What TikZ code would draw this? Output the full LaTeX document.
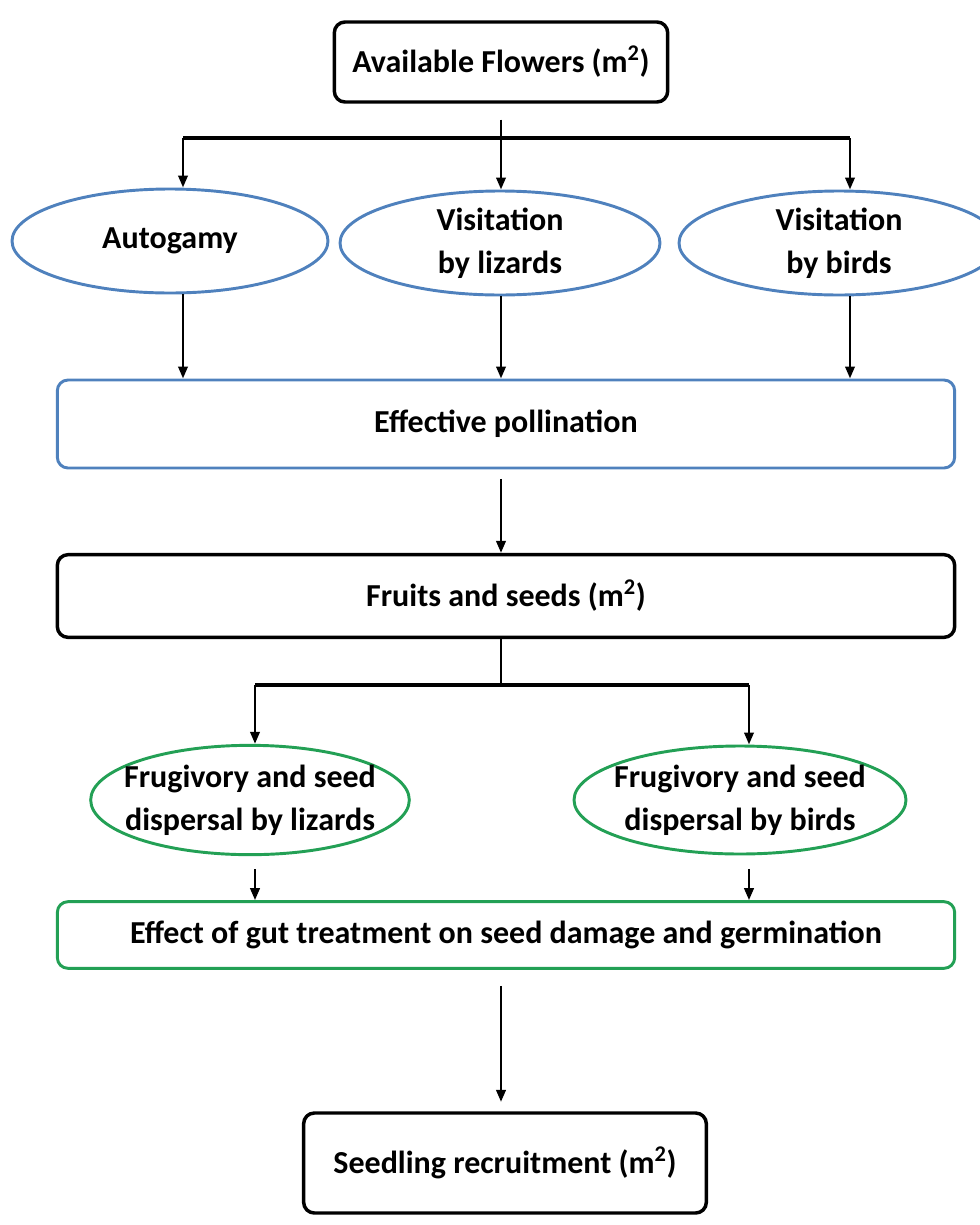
\documentclass[tikz,border=0pt]{standalone}
\usepackage{fontspec}
\setmainfont{Carlito}
\usetikzlibrary{shapes.geometric,arrows.meta}
\definecolor{pollblue}{RGB}{79,129,189}
\definecolor{seedgreen}{RGB}{35,160,85}
\begin{document}
\begin{tikzpicture}[x=0.75pt, y=-0.75pt, font=\bfseries\fontsize{24}{32}\selectfont, line join=round,
	>={Triangle[length=9pt,width=7pt]},
	box/.style={draw, line width=2.6pt, rounded corners=8pt, align=center},
	oval/.style={draw, ellipse, line width=2.2pt, inner sep=-30pt, align=center},
	line/.style={line width=2.4pt},
	stem/.style={line width=2pt},
	arr/.style={->, line width=2pt}]
	\useasboundingbox (0,0) rectangle (979,1225);
	\node[box, minimum width=250pt, minimum height=60pt] (flowers) at (501,62) {Available Flowers (m\textsuperscript{2})};
	\node[oval, draw=pollblue, minimum width=237pt, minimum height=78pt] (auto) at (170,241) {Autogamy};
	\node[oval, draw=pollblue, minimum width=240pt, minimum height=78pt] (lizv) at (500,243) {Visitation\\by lizards};
	\node[oval, draw=pollblue, minimum width=240pt, minimum height=78pt] (birdv) at (839,243) {Visitation\\by birds};
	\node[box, draw=pollblue, line width=2.2pt, minimum width=673pt, minimum height=66pt] (poll) at (506,424) {Effective pollination};
	\node[box, minimum width=673pt, minimum height=62pt] (fruit) at (506,596) {Fruits and seeds (m\textsuperscript{2})};
	\node[oval, draw=seedgreen, minimum width=239pt, minimum height=82pt] (lizf) at (250,800) {Frugivory and seed\\dispersal by lizards};
	\node[oval, draw=seedgreen, minimum width=249pt, minimum height=81pt] (birdf) at (740,800) {Frugivory and seed\\dispersal by birds};
	\node[box, draw=seedgreen, line width=2.2pt, minimum width=673pt, minimum height=50pt] (gut) at (506,935) {Effect of gut treatment on seed damage and germination};
	\node[box, minimum width=302pt, minimum height=75pt] (seedling) at (505,1163) {Seedling recruitment (m\textsuperscript{2})};

	\coordinate (split) at (501,138);
	\coordinate (a1) at (183,138);
	\coordinate (a3) at (850,138);
	\draw[stem, shorten <=12pt] (flowers.south -| split) -- (split);
	\draw[line] (a1) -- (a3);
	\draw[arr] (a1) -- (auto.north -| a1);
	\draw[arr] (split) -- (lizv.north -| split);
	\draw[arr] (a3) -- (birdv.north -| a3);
	\draw[arr] (auto.south -| a1) -- (poll.north -| a1);
	\draw[arr] (lizv.south -| split) -- (poll.north -| split);
	\draw[arr] (birdv.south -| a3) -- (poll.north -| a3);
	\draw[arr, shorten <=7pt] (poll.south -| split) -- (fruit.north -| split);

	\coordinate (split2) at (501,685);
	\coordinate (b1) at (255,685);
	\coordinate (b2) at (749,685);
	\draw[stem] (fruit.south -| split2) -- (split2);
	\draw[line] (b1) -- (b2);
	\draw[arr] (b1) -- (lizf.north -| b1);
	\draw[arr] (b2) -- (birdf.north -| b2);
	\draw[arr, shorten <=10pt] (lizf.south -| b1) -- (gut.north -| b1);
	\draw[arr, shorten <=10pt] (birdf.south -| b2) -- (gut.north -| b2);
	\draw[arr, shorten <=12pt, shorten >=7pt] (gut.south -| split2) -- (seedling.north -| split2);
\end{tikzpicture}
\end{document}
